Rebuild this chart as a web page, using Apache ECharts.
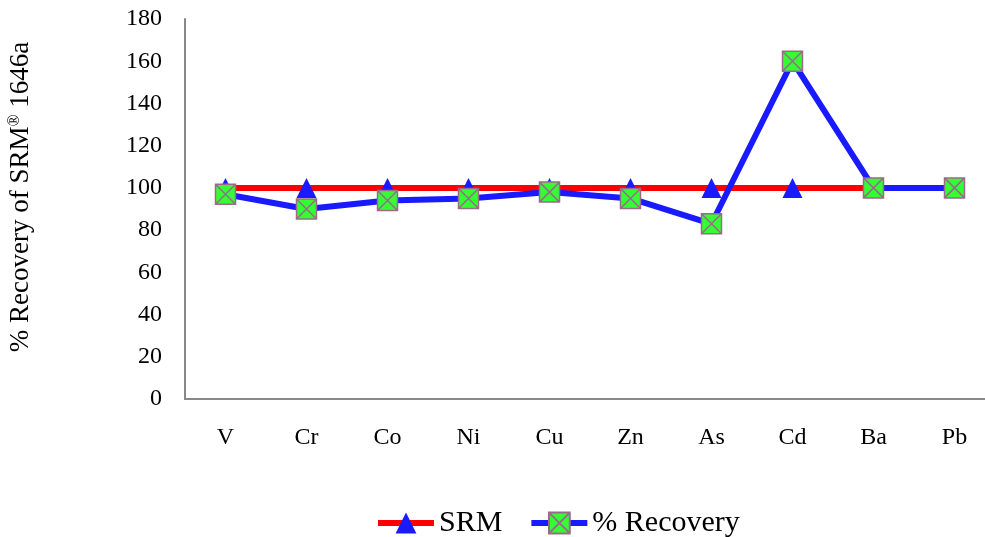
<!DOCTYPE html>
<html>
<head>
<meta charset="utf-8">
<script src="https://cdn.jsdelivr.net/npm/echarts@6/dist/echarts.min.js"></script>
<style>
  html, body { margin: 0; padding: 0; background: #fff; overflow: hidden; }
  /* the plot runs slightly past the right edge of the page */
  #chart { width: 995px; height: 537px; }
</style>
</head>
<body>
<div id="chart"></div>
<script>
// Elements measured in the SRM 1646a sediment reference material
const elements = ['V', 'Cr', 'Co', 'Ni', 'Cu', 'Zn', 'As', 'Cd', 'Ba', 'Pb'];
// Certified reference level (100 %)
const srmValues = [100, 100, 100, 100, 100, 100, 100, 100, 100, 100];
// Measured recovery, %
const recoveryValues = [97, 90, 94, 95, 98, 95, 83, 160, 100, 100];
// Y-axis scale
const yMin = 0, yMax = 180, yStep = 20;

const serif = '"Liberation Serif", "Times New Roman", serif';
const boxCross = 'path://M0,0L20,0L20,20L0,20Z M0,0L20,20 M20,0L0,20';

const chart = echarts.init(document.getElementById('chart'), null, { renderer: 'canvas' });
chart.setOption({
  animation: false,
  backgroundColor: '#ffffff',
  grid: { left: 185, top: 19, bottom: 138, right: 0, containLabel: false },
  legend: {
    top: 503,
    left: 370,
    itemWidth: 56,
    itemHeight: 26,
    itemGap: 26,
    lineStyle: { width: 6 },
    textStyle: { fontFamily: serif, fontSize: 30, color: '#000' },
    data: ['SRM', '% Recovery']
  },
  graphic: [{
    type: 'text',
    x: 7,
    y: 197,
    rotation: Math.PI / 2,
    style: {
      text: '{a|% Recovery of SRM}{s|®}{a| 1646a}',
      align: 'center',
      verticalAlign: 'top',
      fill: '#000',
      rich: {
        a: { fontFamily: serif, fontSize: 27, fill: '#000' },
        s: { fontFamily: serif, fontSize: 16, fill: '#000', verticalAlign: 'top' }
      }
    }
  }],
  xAxis: {
    type: 'category',
    data: elements,
    boundaryGap: true,
    axisLine: { lineStyle: { color: '#888888', width: 2 } },
    axisTick: { show: false },
    axisLabel: { fontFamily: serif, fontSize: 24, color: '#000', margin: 27 }
  },
  yAxis: {
    type: 'value',
    min: yMin, max: yMax, interval: yStep,
    axisLine: { show: true, lineStyle: { color: '#888888', width: 2 } },
    axisTick: { show: false },
    splitLine: { show: false },
    axisLabel: { fontFamily: serif, fontSize: 24, color: '#000', margin: 23 }
  },
  series: [
    {
      name: 'SRM',
      type: 'line',
      data: srmValues,
      symbol: 'triangle',
      symbolSize: 20,
      lineStyle: { color: '#ff0000', width: 6 },
      itemStyle: { color: '#1a1aff', borderWidth: 0 },
      z: 2
    },
    {
      name: '% Recovery',
      type: 'line',
      data: recoveryValues,
      symbol: boxCross,
      symbolSize: 20,
      lineStyle: { color: '#1a1aff', width: 6 },
      itemStyle: { color: '#33ff33', borderColor: '#9a6a8a', borderWidth: 1.5 },
      z: 3
    }
  ]
});
</script>
</body>
</html>
